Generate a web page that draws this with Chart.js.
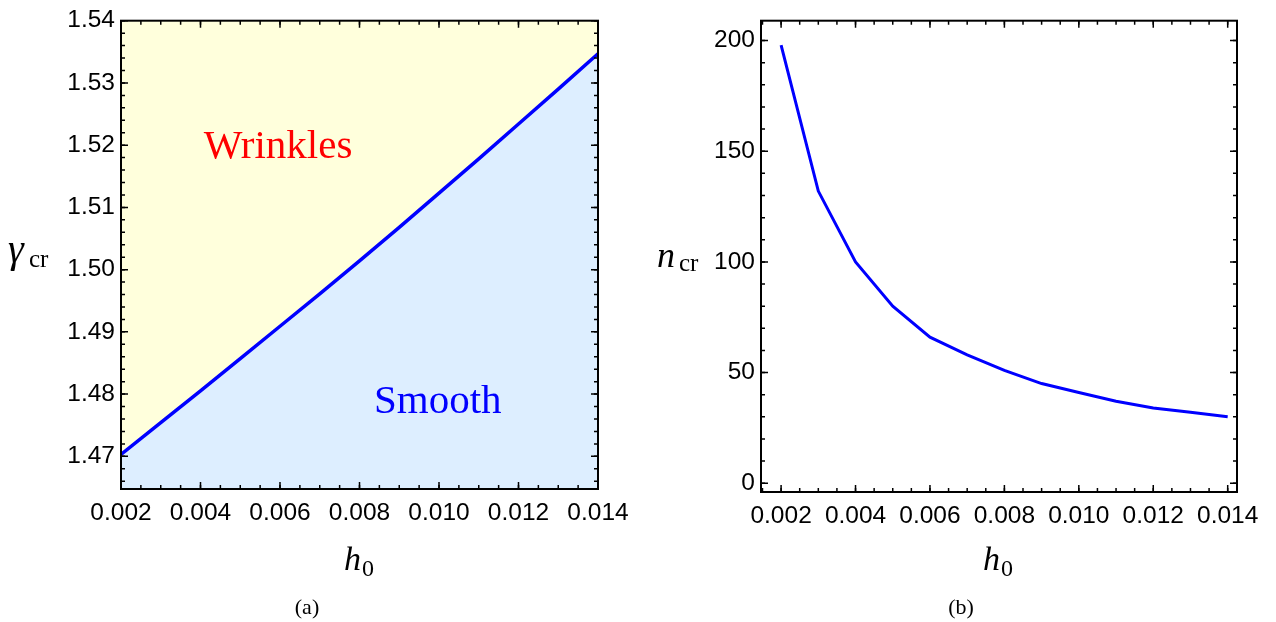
<!DOCTYPE html>
<html>
<head>
<meta charset="utf-8">
<title>Critical stretch and wave number vs h0</title>
<script src="https://cdn.jsdelivr.net/npm/chart.js@4.4.0/dist/chart.umd.min.js"></script>
<style>
  html, body { margin: 0; padding: 0; background: #fff; }
  #wrap { position: relative; width: 1276px; height: 622px; }
  canvas { position: absolute; top: 0; }
  #left { left: 0; }
  #right { left: 640px; }
</style>
</head>
<body>
<div id="wrap">
  <canvas id="left" width="640" height="622"></canvas>
  <canvas id="right" width="636" height="622"></canvas>
</div>
<script>
// film thickness h0
const h0 = [0.002, 0.003, 0.004, 0.005, 0.006, 0.007, 0.008, 0.009, 0.010, 0.011, 0.012, 0.013, 0.014];
// critical stretch (panel a)
const gammaCr = [1.4703, 1.4754, 1.4805, 1.4857, 1.4909, 1.4961, 1.5014, 1.5068, 1.5123, 1.5178, 1.5234, 1.5290, 1.5347];
// critical wave number (panel b)
const nCr = [198, 132, 100, 80, 66, 58, 51, 45, 41, 37, 34, 32, 30];

// tick labels
const hTicks = [0.002, 0.004, 0.006, 0.008, 0.010, 0.012, 0.014];
const gammaTicks = [1.47, 1.48, 1.49, 1.50, 1.51, 1.52, 1.53, 1.54];
const nTicks = [0, 50, 100, 150, 200];

// region names on panel a
const regionNames = ['Wrinkles', 'Smooth'];
const regionColors = ['#ff0000', '#0000ff'];

const tickFont = { family: '"Liberation Sans", Arial, sans-serif', size: 24.5 };
const serif = '"Liberation Serif", "Times New Roman", serif';

function steps(from, to, step) {
  const out = [];
  for (let v = from; v <= to + step / 10; v += step) out.push(+v.toFixed(6));
  return out;
}

// Mathematica-style frame with inward ticks on all four sides
const frameTicks = {
  id: 'frameTicks',
  afterDatasetsDraw(chart, args, opts) {
    const { ctx, chartArea: a, scales: { x, y } } = chart;
    ctx.save();
    ctx.strokeStyle = '#000';
    ctx.lineWidth = 1.5;
    const xMarks = (vals, len) => vals.forEach(v => {
      const px = x.getPixelForValue(v);
      if (px < a.left - 0.5 || px > a.right + 0.5) return;
      ctx.beginPath();
      ctx.moveTo(px, a.bottom); ctx.lineTo(px, a.bottom - len);
      ctx.moveTo(px, a.top); ctx.lineTo(px, a.top + len);
      ctx.stroke();
    });
    const yMarks = (vals, len) => vals.forEach(v => {
      const py = y.getPixelForValue(v);
      if (py < a.top - 0.5 || py > a.bottom + 0.5) return;
      ctx.beginPath();
      ctx.moveTo(a.left, py); ctx.lineTo(a.left + len, py);
      ctx.moveTo(a.right, py); ctx.lineTo(a.right - len, py);
      ctx.stroke();
    });
    xMarks(opts.xMinor, 4);
    xMarks(opts.xMajor, 7);
    yMarks(opts.yMinor, 4);
    yMarks(opts.yMajor, 7);
    ctx.lineWidth = 2;
    ctx.strokeRect(a.left, a.top, a.width, a.height);
    ctx.restore();
  }
};

// free text: notes in data coordinates, titles in canvas pixels
const textLayer = {
  id: 'textLayer',
  afterDraw(chart, args, opts) {
    const { ctx, scales: { x, y } } = chart;
    ctx.save();
    ctx.textBaseline = 'alphabetic';
    (opts.notes || []).forEach(n => {
      ctx.font = n.font;
      ctx.fillStyle = n.color;
      ctx.textAlign = 'center';
      ctx.fillText(n.text, x.getPixelForValue(n.x), y.getPixelForValue(n.y));
    });
    (opts.titles || []).forEach(t => {
      ctx.font = t.font;
      ctx.fillStyle = '#000';
      ctx.textAlign = t.align || 'left';
      ctx.fillText(t.text, t.x, t.y);
    });
    ctx.restore();
  }
};

function axes(xMin, xMax, yMin, yMax, yTicks, yFmt, yWidth, xHeight) {
  return {
    x: {
      type: 'linear', min: xMin, max: xMax,
      afterBuildTicks: s => { s.ticks = hTicks.map(v => ({ value: v })); },
      afterFit: s => { s.height = xHeight; },
      ticks: { font: tickFont, color: '#000', padding: 10, maxRotation: 0, autoSkip: false,
               callback: v => v.toFixed(3) },
      grid: { display: false, drawTicks: false },
      border: { display: false }
    },
    y: {
      type: 'linear', min: yMin, max: yMax,
      afterBuildTicks: s => { s.ticks = yTicks.map(v => ({ value: v })); },
      afterFit: s => { s.width = yWidth; },
      ticks: { font: tickFont, color: '#000', padding: 6, autoSkip: false, callback: yFmt },
      grid: { display: false, drawTicks: false },
      border: { display: false }
    }
  };
}

Chart.register(frameTicks, textLayer);

// (a) critical stretch: blue below the curve, yellow above
const gammaPoints = h0.map((h, i) => ({ x: h, y: gammaCr[i] }));
new Chart(document.getElementById('left'), {
  type: 'line',
  data: {
    datasets: [
      {
        data: gammaPoints,
        borderColor: '#0000ff', borderWidth: 3.5, pointRadius: 0,
        fill: 'start', backgroundColor: '#ddeeff'
      },
      {
        data: gammaPoints,
        borderWidth: 0, pointRadius: 0,
        fill: 'end', backgroundColor: '#ffffdc'
      }
    ]
  },
  options: {
    responsive: false, animation: false,
    layout: { padding: { top: 16, right: 42, left: 0, bottom: 0 } },
    scales: axes(0.002, 0.014, 1.46475, 1.54, gammaTicks, v => v.toFixed(2), 121, 622 - 489),
    plugins: {
      legend: { display: false }, tooltip: { enabled: false },
      frameTicks: {
        xMajor: hTicks, xMinor: steps(0.002, 0.014, 0.0005),
        yMajor: gammaTicks, yMinor: steps(1.466, 1.54, 0.002)
      },
      textLayer: {
        notes: [
          { text: regionNames[0], color: regionColors[0], x: 0.00595, y: 1.5179, font: '41px ' + serif },
          { text: regionNames[1], color: regionColors[1], x: 0.00997, y: 1.4770, font: '41px ' + serif }
        ],
        titles: [
          { text: 'γ', font: 'italic 40px ' + serif, x: 8, y: 262 },
          { text: 'cr', font: '25px ' + serif, x: 29, y: 267 },
          { text: 'h', font: 'italic 34px ' + serif, x: 344, y: 570 },
          { text: '0', font: '24px ' + serif, x: 362, y: 576 },
          { text: '(a)', font: '22px ' + serif, x: 307, y: 614, align: 'center' }
        ]
      }
    }
  }
});

// (b) critical wave number
new Chart(document.getElementById('right'), {
  type: 'line',
  data: {
    datasets: [{
      data: h0.map((h, i) => ({ x: h, y: nCr[i] })),
      borderColor: '#0000ff', borderWidth: 3, pointRadius: 0, fill: false
    }]
  },
  options: {
    responsive: false, animation: false,
    layout: { padding: { top: 17, right: 39, left: 0, bottom: 0 } },
    scales: axes(0.00146, 0.01425, -4, 209, nTicks, v => String(v), 121, 622 - 492),
    plugins: {
      legend: { display: false }, tooltip: { enabled: false },
      frameTicks: {
        xMajor: hTicks, xMinor: steps(0.0015, 0.014, 0.0005),
        yMajor: nTicks, yMinor: steps(0, 200, 10)
      },
      textLayer: {
        titles: [
          { text: 'n', font: 'italic 36px ' + serif, x: 17, y: 267 },
          { text: 'cr', font: '25px ' + serif, x: 39, y: 271 },
          { text: 'h', font: 'italic 34px ' + serif, x: 343, y: 570 },
          { text: '0', font: '24px ' + serif, x: 361, y: 576 },
          { text: '(b)', font: '22px ' + serif, x: 321, y: 614, align: 'center' }
        ]
      }
    }
  }
});
</script>
</body>
</html>
